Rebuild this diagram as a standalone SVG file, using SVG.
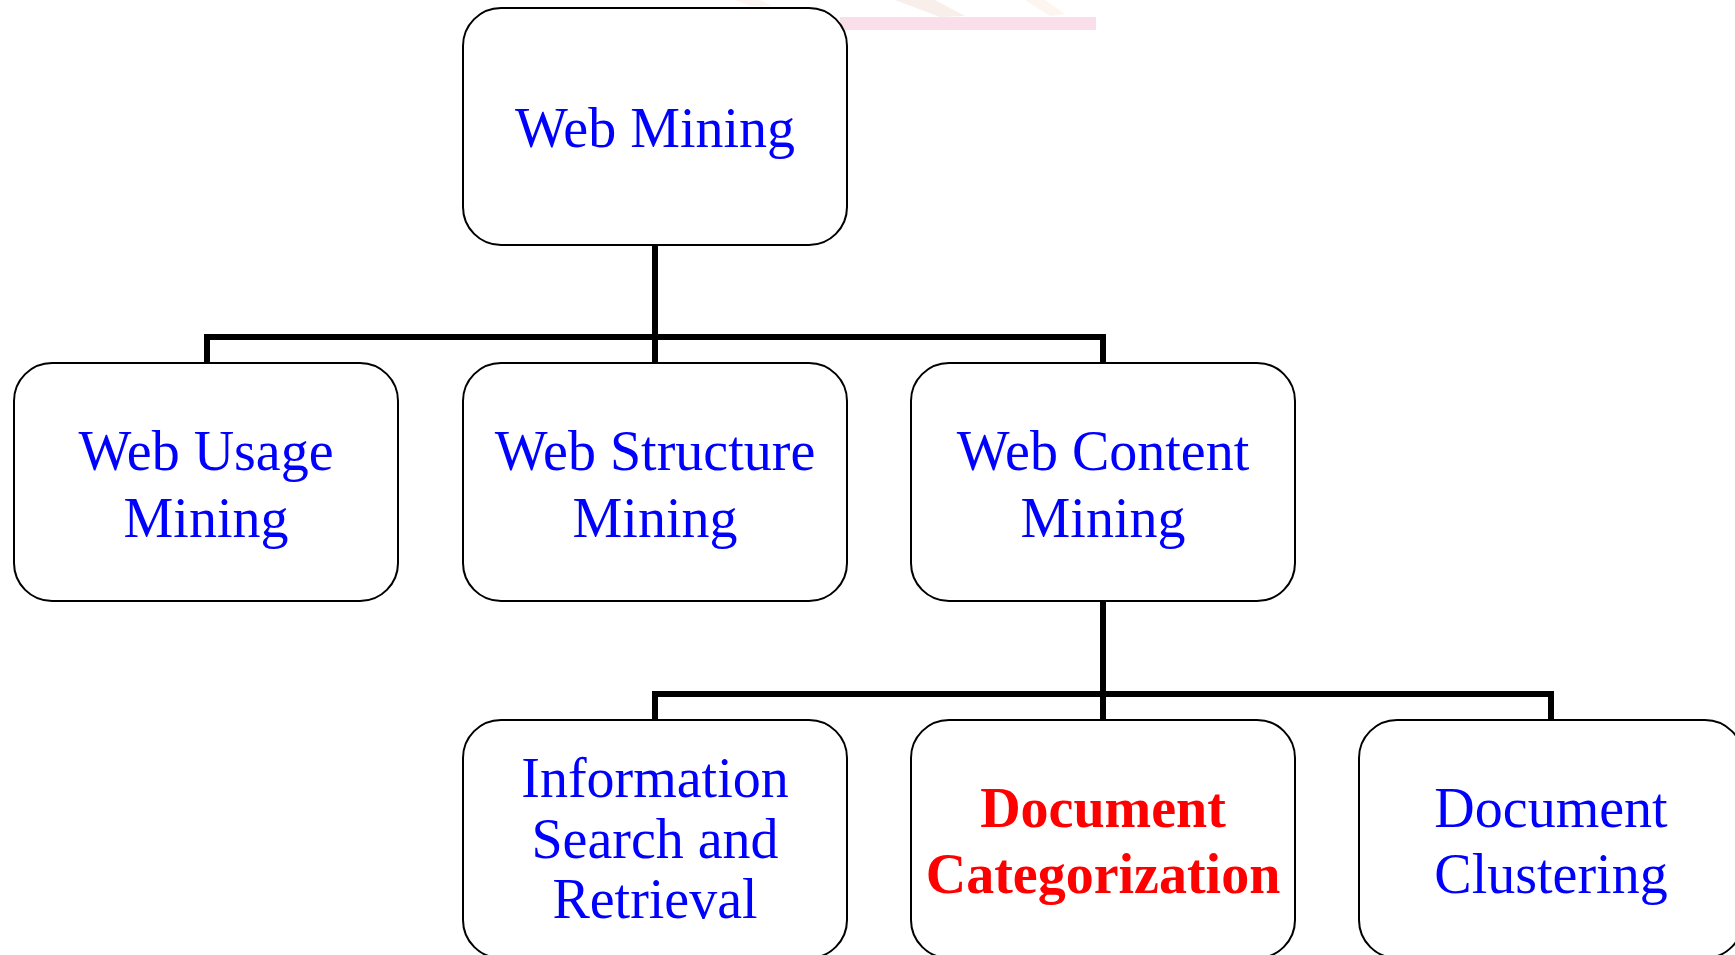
<svg xmlns="http://www.w3.org/2000/svg" width="1735" height="955" viewBox="0 0 1735 955">
  <style>
    .box { fill: #ffffff; stroke: #000000; stroke-width: 2; }
    .lbl { font-family: "Liberation Serif", "Times New Roman", serif; font-size: 56px; fill: #0000ff; text-anchor: middle; }
    .hot { font-weight: bold; font-size: 56px; fill: #ff0000; }
    .wire { fill: none; stroke: #000000; stroke-width: 6; stroke-linejoin: miter; stroke-linecap: butt; }
  </style>

  <rect width="1735" height="955" fill="#ffffff"/>

  <!-- faint decoration at the top edge -->
  <g id="decor">
    <path d="M735 0 L760 0 L772 6 L750 6 Z" fill="#f4d9cc" opacity="0.3"/>
    <path d="M895 0 L935 0 L965 16 L940 17 Z" fill="#e8cbbd" opacity="0.3"/>
    <path d="M1025 0 L1045 0 L1065 14 L1050 16 Z" fill="#f6e2d4" opacity="0.35"/>
    <rect x="840" y="17" width="256" height="13" fill="#fadfeb"/>
  </g>

  <!-- connectors -->
  <g id="connectors" class="wire">
    <polyline points="655,245 655,337"/>
    <polyline points="207,363 207,337 1103,337 1103,363"/>
    <polyline points="655,337 655,363"/>
    <polyline points="1103,601 1103,694"/>
    <polyline points="655,720 655,694 1551,694 1551,720"/>
    <polyline points="1103,694 1103,720"/>
  </g>

  <g id="web-mining">
    <rect class="box" x="463" y="8" width="384" height="237" rx="38" ry="38"/>
    <text class="lbl" x="655" y="147">Web Mining</text>
  </g>

  <g id="web-usage-mining">
    <rect class="box" x="14" y="363" width="384" height="238" rx="38" ry="38"/>
    <text class="lbl" x="206" y="470">Web Usage</text>
    <text class="lbl" x="206" y="537">Mining</text>
  </g>

  <g id="web-structure-mining">
    <rect class="box" x="463" y="363" width="384" height="238" rx="38" ry="38"/>
    <text class="lbl" x="655" y="470">Web Structure</text>
    <text class="lbl" x="655" y="537">Mining</text>
  </g>

  <g id="web-content-mining">
    <rect class="box" x="911" y="363" width="384" height="238" rx="38" ry="38"/>
    <text class="lbl" x="1103" y="470">Web Content</text>
    <text class="lbl" x="1103" y="537">Mining</text>
  </g>

  <g id="information-search">
    <rect class="box" x="463" y="720" width="384" height="238" rx="38" ry="38"/>
    <text class="lbl" x="655" y="797">Information</text>
    <text class="lbl" x="655" y="858">Search and</text>
    <text class="lbl" x="655" y="918">Retrieval</text>
  </g>

  <g id="document-categorization">
    <rect class="box" x="911" y="720" width="384" height="238" rx="38" ry="38"/>
    <text class="lbl hot" x="1103" y="827">Document</text>
    <text class="lbl hot" x="1103" y="893">Categorization</text>
  </g>

  <g id="document-clustering">
    <rect class="box" x="1359" y="720" width="384" height="238" rx="38" ry="38"/>
    <text class="lbl" x="1551" y="827">Document</text>
    <text class="lbl" x="1551" y="893">Clustering</text>
  </g>
</svg>
